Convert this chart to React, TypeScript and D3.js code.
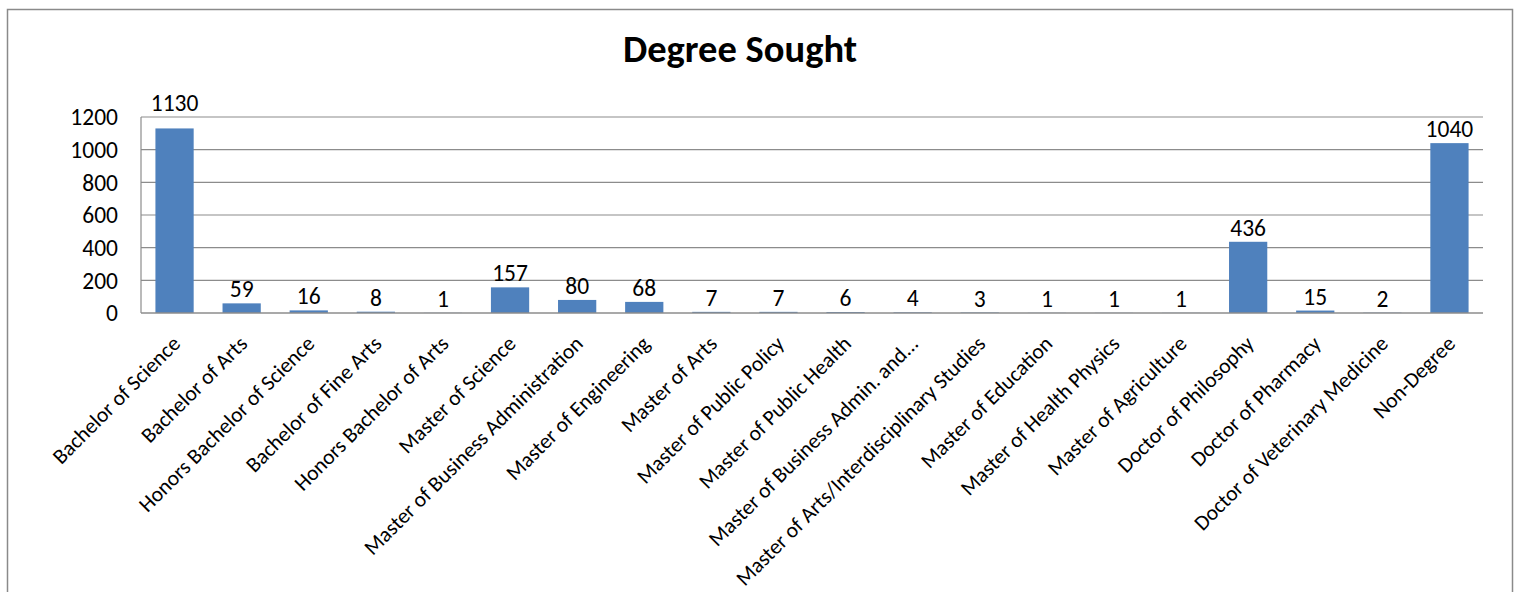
import React from "react";
import * as d3 from "d3";

const categories: string[] = [
  "Bachelor of Science",
  "Bachelor of Arts",
  "Honors Bachelor of Science",
  "Bachelor of Fine Arts",
  "Honors Bachelor of Arts",
  "Master of Science",
  "Master of Business Administration",
  "Master of Engineering",
  "Master of Arts",
  "Master of Public Policy",
  "Master of Public Health",
  "Master of Business Admin. and...",
  "Master of Arts/Interdisciplinary Studies",
  "Master of Education",
  "Master of Health Physics",
  "Master of Agriculture",
  "Doctor of Philosophy",
  "Doctor of Pharmacy",
  "Doctor of Veterinary Medicine",
  "Non-Degree",
];
const values: number[] = [1130, 59, 16, 8, 1, 157, 80, 68, 7, 7, 6, 4, 3, 1, 1, 1, 436, 15, 2, 1040];
const yTicks: number[] = [0, 200, 400, 600, 800, 1000, 1200];
const title = "Degree Sought";

const W = 1522;
const H = 592;
const plot = { left: 141, right: 1483, top: 117, bottom: 313 };
const FONT = "Carlito, Lato, 'Open Sans', sans-serif";

export default function App() {
  const x = d3
    .scaleBand<string>()
    .domain(categories)
    .range([plot.left, plot.right])
    .paddingInner(0.43)
    .paddingOuter(0.215);
  const y = d3.scaleLinear().domain([0, 1200]).range([plot.bottom, plot.top]);
  const barColor = "#4F81BD";
  const gridColor = "#8c8c8c";

  return (
    <svg
      width={W}
      height={H}
      style={{ position: "absolute", left: 0, top: 0, background: "#fff" }}
      fontFamily={FONT}
    >
      <rect x={0} y={0} width={W} height={H} fill="#fff" />
      <rect x={7.5} y={9.5} width={1505} height={620} fill="none" stroke="#8a8a8a" strokeWidth={1.5} />
      <text x={740} y={62} textAnchor="middle" fontSize={38.5} fontWeight="bold" fill="#000">
        {title}
      </text>
      {yTicks.map((t) => (
        <g key={t}>
          {t > 0 && (
            <line x1={plot.left} x2={plot.right} y1={y(t)} y2={y(t)} stroke={gridColor} strokeWidth={1.2} />
          )}
          <text x={118} y={y(t)} dy="0.35em" textAnchor="end" fontSize={23.5} fill="#000">
            {t}
          </text>
        </g>
      ))}
      <line x1={plot.left} x2={plot.left} y1={plot.top} y2={plot.bottom} stroke={gridColor} strokeWidth={1.2} />
      {categories.map((c, i) => {
        const bx = x(c)!;
        const bw = x.bandwidth();
        const cx = bx + bw / 2;
        let ly = y(values[i]) - 6;
        if (ly - 17 < plot.top) ly = plot.top - 6;
        return (
          <g key={c}>
            <rect x={bx} y={y(values[i])} width={bw} height={plot.bottom - y(values[i])} fill={barColor} />
            <text x={cx} y={ly} textAnchor="middle" fontSize={23.5} fill="#000">
              {values[i]}
            </text>
            <text
              transform={`translate(${cx + 7},${plot.bottom + 32}) rotate(-45)`}
              textAnchor="end"
              fontSize={21.5}
              fill="#000"
            >
              {c}
            </text>
          </g>
        );
      })}
      <line x1={plot.left} x2={plot.right} y1={plot.bottom} y2={plot.bottom} stroke={gridColor} strokeWidth={1.5} />
    </svg>
  );
}
